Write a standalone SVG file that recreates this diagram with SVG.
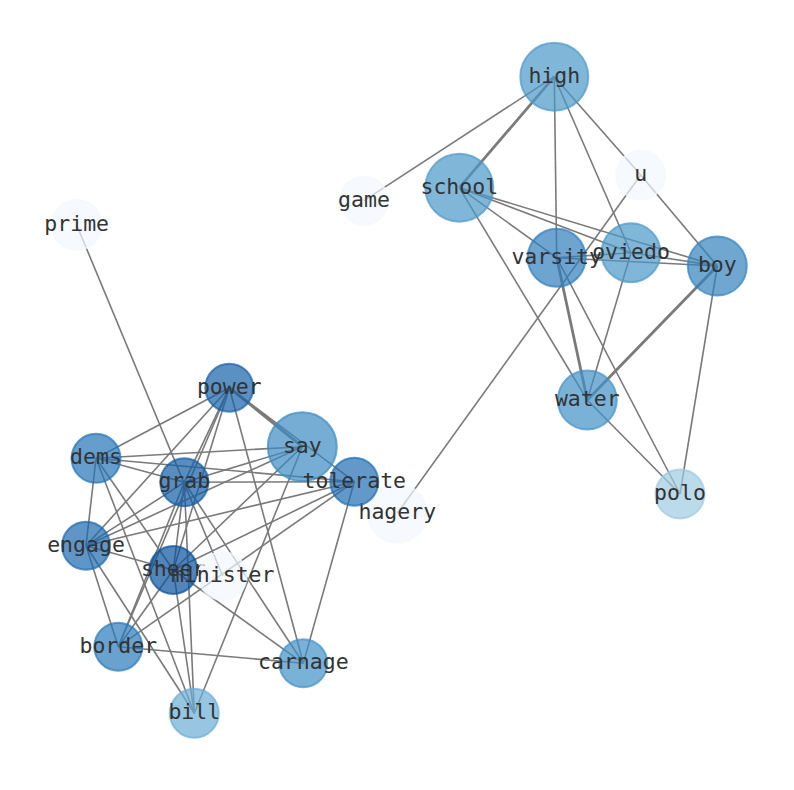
<svg xmlns="http://www.w3.org/2000/svg" width="794" height="790" viewBox="0 0 794 790">
<style>
.e{stroke:#7a7a7a;stroke-width:1.6;fill:none}
.t{stroke-width:2.8}
.n circle{fill-opacity:0.7;stroke-opacity:0.7;stroke-width:2}
.n text{font-family:"DejaVu Sans Mono","Liberation Mono",monospace;font-size:21.5px;fill:#333;text-anchor:middle;dominant-baseline:central}
</style>
<rect width="794" height="790" fill="#fff"/>
<g id="edges">
<line class="e" x1="554.3" y1="76.7" x2="364" y2="200.7"/>
<line class="e t" x1="554.3" y1="76.7" x2="459.3" y2="187.7"/>
<line class="e" x1="554.3" y1="76.7" x2="556.7" y2="257.7"/>
<line class="e" x1="554.3" y1="76.7" x2="631" y2="252.7"/>
<line class="e" x1="554.3" y1="76.7" x2="640.7" y2="175"/>
<line class="e" x1="459.3" y1="187.7" x2="556.7" y2="257.7"/>
<line class="e" x1="459.3" y1="187.7" x2="631" y2="252.7"/>
<line class="e" x1="459.3" y1="187.7" x2="717.3" y2="266"/>
<line class="e" x1="459.3" y1="187.7" x2="587.3" y2="400"/>
<line class="e" x1="556.7" y1="257.7" x2="631" y2="252.7"/>
<line class="e" x1="556.7" y1="257.7" x2="717.3" y2="266"/>
<line class="e t" x1="556.7" y1="257.7" x2="587.3" y2="400"/>
<line class="e" x1="556.7" y1="257.7" x2="680" y2="494"/>
<line class="e" x1="631" y1="252.7" x2="717.3" y2="266"/>
<line class="e" x1="631" y1="252.7" x2="587.3" y2="400"/>
<line class="e t" x1="717.3" y1="266" x2="587.3" y2="400"/>
<line class="e" x1="717.3" y1="266" x2="680" y2="494"/>
<line class="e" x1="640.7" y1="175" x2="717.3" y2="266"/>
<line class="e" x1="640.7" y1="175" x2="397.3" y2="513.3"/>
<line class="e" x1="587.3" y1="400" x2="680" y2="494"/>
<line class="e" x1="76.7" y1="225" x2="222.7" y2="576"/>
<line class="e" x1="229.3" y1="387.7" x2="96" y2="458.3"/>
<line class="e" x1="229.3" y1="387.7" x2="86" y2="545.7"/>
<line class="e" x1="229.3" y1="387.7" x2="184.3" y2="482.3"/>
<line class="e" x1="229.3" y1="387.7" x2="173.3" y2="570"/>
<line class="e" x1="229.3" y1="387.7" x2="118.3" y2="646.7"/>
<line class="e" x1="229.3" y1="387.7" x2="303.3" y2="663.3"/>
<line class="e t" x1="229.3" y1="387.7" x2="302.3" y2="446.7"/>
<line class="e" x1="229.3" y1="387.7" x2="354.3" y2="481.7"/>
<line class="e" x1="96" y1="458.3" x2="302.3" y2="446.7"/>
<line class="e" x1="96" y1="458.3" x2="354.3" y2="481.7"/>
<line class="e" x1="96" y1="458.3" x2="184.3" y2="482.3"/>
<line class="e" x1="96" y1="458.3" x2="86" y2="545.7"/>
<line class="e" x1="96" y1="458.3" x2="173.3" y2="570"/>
<line class="e" x1="96" y1="458.3" x2="194.3" y2="713.3"/>
<line class="e" x1="184.3" y1="482.3" x2="302.3" y2="446.7"/>
<line class="e" x1="184.3" y1="482.3" x2="354.3" y2="481.7"/>
<line class="e" x1="184.3" y1="482.3" x2="86" y2="545.7"/>
<line class="e" x1="184.3" y1="482.3" x2="173.3" y2="570"/>
<line class="e" x1="184.3" y1="482.3" x2="118.3" y2="646.7"/>
<line class="e" x1="184.3" y1="482.3" x2="194.3" y2="713.3"/>
<line class="e" x1="184.3" y1="482.3" x2="303.3" y2="663.3"/>
<line class="e" x1="302.3" y1="446.7" x2="86" y2="545.7"/>
<line class="e" x1="302.3" y1="446.7" x2="173.3" y2="570"/>
<line class="e" x1="302.3" y1="446.7" x2="194.3" y2="713.3"/>
<line class="e" x1="354.3" y1="481.7" x2="86" y2="545.7"/>
<line class="e" x1="354.3" y1="481.7" x2="173.3" y2="570"/>
<line class="e" x1="354.3" y1="481.7" x2="118.3" y2="646.7"/>
<line class="e" x1="354.3" y1="481.7" x2="303.3" y2="663.3"/>
<line class="e" x1="86" y1="545.7" x2="173.3" y2="570"/>
<line class="e" x1="86" y1="545.7" x2="118.3" y2="646.7"/>
<line class="e" x1="86" y1="545.7" x2="194.3" y2="713.3"/>
<line class="e" x1="173.3" y1="570" x2="303.3" y2="663.3"/>
<line class="e" x1="173.3" y1="570" x2="118.3" y2="646.7"/>
<line class="e" x1="173.3" y1="570" x2="194.3" y2="713.3"/>
<line class="e" x1="118.3" y1="646.7" x2="303.3" y2="663.3"/>
</g>
<g id="node-high" class="n"><circle cx="554.3" cy="76.7" r="34" fill="#4a98c9" stroke="#4a98c9"/><text x="554.3" y="75.2">high</text></g>
<g id="node-school" class="n"><circle cx="459.3" cy="187.7" r="34" fill="#4a98c9" stroke="#4a98c9"/><text x="459.3" y="186.2">school</text></g>
<g id="node-game" class="n"><circle cx="364" cy="200.7" r="24" fill="#f2f8fd" stroke="#f2f8fd"/><text x="364" y="199.2">game</text></g>
<g id="node-u" class="n"><circle cx="640.7" cy="175" r="24.5" fill="#f2f8fd" stroke="#f2f8fd"/><text x="640.7" y="173.5">u</text></g>
<g id="node-varsity" class="n"><circle cx="556.7" cy="257.7" r="29" fill="#2f7ebc" stroke="#2f7ebc"/><text x="556.7" y="256.2">varsity</text></g>
<g id="node-oviedo" class="n"><circle cx="631" cy="252.7" r="29.5" fill="#4a98c9" stroke="#4a98c9"/><text x="631" y="251.2">oviedo</text></g>
<g id="node-boy" class="n"><circle cx="717.3" cy="266" r="29.5" fill="#3282be" stroke="#3282be"/><text x="717.3" y="264.5">boy</text></g>
<g id="node-water" class="n"><circle cx="587.3" cy="400" r="29.5" fill="#4292c6" stroke="#4292c6"/><text x="587.3" y="398.5">water</text></g>
<g id="node-polo" class="n"><circle cx="680" cy="494" r="24.5" fill="#9ecae1" stroke="#9ecae1"/><text x="680" y="492.5">polo</text></g>
<g id="node-hagery" class="n"><circle cx="397.3" cy="513.3" r="29.5" fill="#f2f8fd" stroke="#f2f8fd"/><text x="397.3" y="511.8">hagery</text></g>
<g id="node-power" class="n"><circle cx="229.3" cy="387.7" r="24" fill="#1561a9" stroke="#1561a9"/><text x="229.3" y="386.2">power</text></g>
<g id="node-say" class="n"><circle cx="302.3" cy="446.7" r="34.5" fill="#3b8ac2" stroke="#3b8ac2"/><text x="302.3" y="445.2">say</text></g>
<g id="node-dems" class="n"><circle cx="96" cy="458.3" r="24.5" fill="#2474b7" stroke="#2474b7"/><text x="96" y="456.8">dems</text></g>
<g id="node-grab" class="n"><circle cx="184.3" cy="482.3" r="24" fill="#125ca5" stroke="#125ca5"/><text x="184.3" y="480.8">grab</text></g>
<g id="node-tolerate" class="n"><circle cx="354.3" cy="481.7" r="24" fill="#1f6eb3" stroke="#1f6eb3"/><text x="354.3" y="480.2">tolerate</text></g>
<g id="node-engage" class="n"><circle cx="86" cy="545.7" r="24" fill="#1b69af" stroke="#1b69af"/><text x="86" y="544.2">engage</text></g>
<g id="node-sheer" class="n"><circle cx="173.3" cy="570" r="24" fill="#08519c" stroke="#08519c"/><text x="173.3" y="568.5">sheer</text></g>
<g id="node-minister" class="n"><circle cx="222.7" cy="576" r="24" fill="#f2f8fd" stroke="#f2f8fd"/><text x="222.7" y="574.5">minister</text></g>
<g id="node-border" class="n"><circle cx="118.3" cy="646.7" r="24" fill="#2a7ab9" stroke="#2a7ab9"/><text x="118.3" y="645.2">border</text></g>
<g id="node-carnage" class="n"><circle cx="303.3" cy="663.3" r="24" fill="#4292c6" stroke="#4292c6"/><text x="303.3" y="661.8">carnage</text></g>
<g id="node-bill" class="n"><circle cx="194.3" cy="713.3" r="24.5" fill="#6baed6" stroke="#6baed6"/><text x="194.3" y="711.8">bill</text></g>
<g id="node-prime" class="n"><circle cx="76.7" cy="225" r="25" fill="#f2f8fd" stroke="#f2f8fd"/><text x="76.7" y="223.5">prime</text></g>
</svg>
